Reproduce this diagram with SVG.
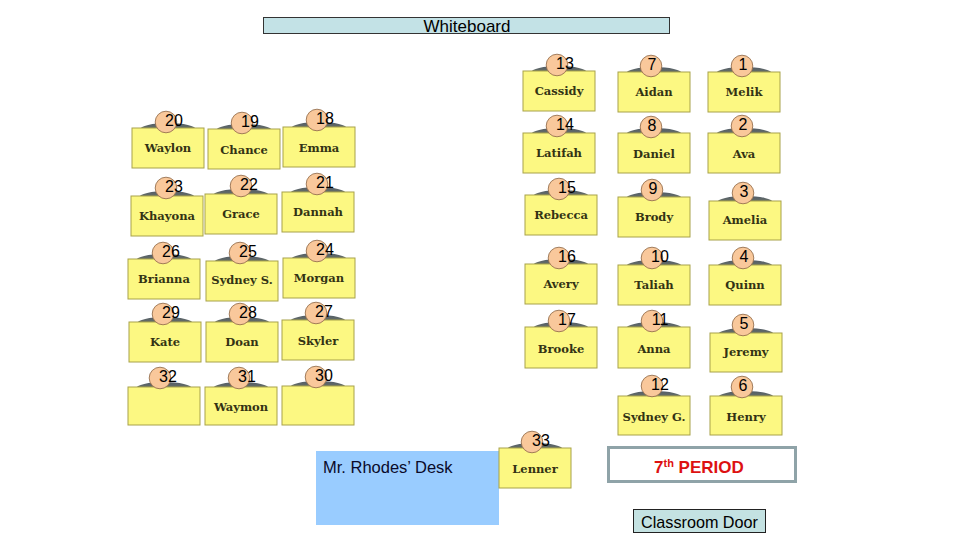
<svg xmlns="http://www.w3.org/2000/svg" width="960" height="540" viewBox="0 0 960 540">
<defs>
<linearGradient id="chairGrad" x1="0" y1="0" x2="0" y2="1">
<stop offset="0" stop-color="#525c68"/>
<stop offset="0.55" stop-color="#6e7566"/>
<stop offset="1" stop-color="#a8a444"/>
</linearGradient>
</defs>
<style>
.chair{fill:url(#chairGrad);stroke:none}
.top{fill:#fcf882;stroke:#a8a24a;stroke-width:1}
.seat{fill:#f9c89b;stroke:#8a6444;stroke-width:0.8}
.num{font-family:"Liberation Sans",Arial,sans-serif;font-size:16px;fill:#000;text-anchor:middle}
.name{font-family:"DejaVu Serif",Georgia,serif;font-weight:bold;font-size:11.5px;fill:#333314;text-anchor:middle}
.label{font-family:"Liberation Sans",Arial,sans-serif}
</style>
<rect width="960" height="540" fill="#ffffff"/>

<g id="whiteboard">
<rect x="263.5" y="17.5" width="406" height="16" fill="#c3e2e6" stroke="#333" stroke-width="1"/>
<text class="label" x="467" y="31.5" font-size="17" text-anchor="middle" fill="#000">Whiteboard</text>
</g>

<g id="teacher-desk">
<rect x="316" y="451" width="183" height="74" fill="#99ccff"/>
<text class="label" x="323" y="473" font-size="16.5" fill="#0a0a2a">Mr. Rhodes’ Desk</text>
</g>

<g id="period">
<rect x="608.5" y="447.5" width="187" height="34" fill="#ffffff" stroke="#8fa3a8" stroke-width="3"/>
<text class="label" x="654" y="473" font-size="17" font-weight="bold" fill="#dd1111">7<tspan font-size="11" dy="-6">th</tspan><tspan dy="6"> PERIOD</tspan></text>
</g>

<g id="classroom-door">
<rect x="633.5" y="509.5" width="132" height="23" fill="#c4e2e2" stroke="#222" stroke-width="1"/>
<text class="label" x="699.5" y="527.5" font-size="16.2" text-anchor="middle" fill="#000">Classroom Door</text>
</g>

<g id="connectors"></g>

<!-- Left block -->
<g id="desk-20"><ellipse class="chair" cx="168" cy="129.5" rx="28" ry="6.5"/><rect class="top" x="132" y="128" width="72" height="40"/><circle class="seat" cx="166" cy="122" r="10.8"/><text class="num" x="174" y="126">20</text><text class="name" x="168" y="151.5">Waylon</text></g>
<g id="desk-19"><ellipse class="chair" cx="244" cy="130.5" rx="28" ry="6.5"/><rect class="top" x="208" y="129" width="72" height="40"/><circle class="seat" cx="242" cy="123" r="10.8"/><text class="num" x="250" y="127">19</text><text class="name" x="244" y="153.5">Chance</text></g>
<g id="desk-18"><ellipse class="chair" cx="319" cy="128.5" rx="28" ry="6.5"/><rect class="top" x="283" y="127" width="72" height="40"/><circle class="seat" cx="317" cy="120" r="10.8"/><text class="num" x="325" y="124">18</text><text class="name" x="319" y="151.5">Emma</text></g>

<g id="desk-23"><ellipse class="chair" cx="167" cy="197.5" rx="28" ry="6.5"/><rect class="top" x="131" y="196" width="72" height="40"/><circle class="seat" cx="166" cy="188" r="10.8"/><text class="num" x="174" y="192">23</text><text class="name" x="167" y="219.5">Khayona</text></g>
<g id="desk-22"><ellipse class="chair" cx="241" cy="195.5" rx="28" ry="6.5"/><rect class="top" x="205" y="194" width="72" height="40"/><circle class="seat" cx="241" cy="186" r="10.8"/><text class="num" x="249" y="190">22</text><text class="name" x="241" y="217.5">Grace</text></g>
<g id="desk-21"><ellipse class="chair" cx="318" cy="193.5" rx="28" ry="6.5"/><rect class="top" x="282" y="192" width="72" height="40"/><circle class="seat" cx="317" cy="184" r="10.8"/><text class="num" x="325" y="188">21</text><text class="name" x="318" y="215.5">Dannah</text></g>

<g id="desk-26"><ellipse class="chair" cx="164" cy="260.5" rx="28" ry="6.5"/><rect class="top" x="128" y="259" width="72" height="40"/><circle class="seat" cx="163" cy="253" r="10.8"/><text class="num" x="171" y="257">26</text><text class="name" x="164" y="282.5">Brianna</text></g>
<g id="desk-25"><ellipse class="chair" cx="242" cy="262.5" rx="28" ry="6.5"/><rect class="top" x="206" y="261" width="72" height="40"/><circle class="seat" cx="240" cy="253" r="10.8"/><text class="num" x="248" y="257">25</text><text class="name" x="242" y="283.5">Sydney S.</text></g>
<g id="desk-24"><ellipse class="chair" cx="319" cy="259.5" rx="28" ry="6.5"/><rect class="top" x="283" y="258" width="72" height="40"/><circle class="seat" cx="317" cy="251" r="10.8"/><text class="num" x="325" y="255">24</text><text class="name" x="319" y="281.5">Morgan</text></g>

<g id="desk-29"><ellipse class="chair" cx="165" cy="323.5" rx="28" ry="6.5"/><rect class="top" x="129" y="322" width="72" height="40"/><circle class="seat" cx="163" cy="314" r="10.8"/><text class="num" x="171" y="318">29</text><text class="name" x="165" y="345.5">Kate</text></g>
<g id="desk-28"><ellipse class="chair" cx="242" cy="323.5" rx="28" ry="6.5"/><rect class="top" x="206" y="322" width="72" height="40"/><circle class="seat" cx="240" cy="314" r="10.8"/><text class="num" x="248" y="318">28</text><text class="name" x="242" y="345.5">Doan</text></g>
<g id="desk-27"><ellipse class="chair" cx="318" cy="321.5" rx="28" ry="6.5"/><rect class="top" x="282" y="320" width="72" height="40"/><circle class="seat" cx="316" cy="313" r="10.8"/><text class="num" x="324" y="317">27</text><text class="name" x="318" y="344.5">Skyler</text></g>

<g id="desk-32"><ellipse class="chair" cx="164" cy="388.5" rx="28" ry="6.5"/><rect class="top" x="128" y="387" width="72" height="38"/><circle class="seat" cx="160" cy="378" r="10.8"/><text class="num" x="168" y="382">32</text></g>
<g id="desk-31"><ellipse class="chair" cx="241" cy="388.5" rx="28" ry="6.5"/><rect class="top" x="205" y="387" width="72" height="38"/><circle class="seat" cx="239" cy="378" r="10.8"/><text class="num" x="247" y="382">31</text><text class="name" x="241" y="410.5">Waymon</text></g>
<g id="desk-30"><ellipse class="chair" cx="318" cy="387.5" rx="28" ry="6.5"/><rect class="top" x="282" y="386" width="72" height="39"/><circle class="seat" cx="316" cy="377" r="10.8"/><text class="num" x="324" y="381">30</text></g>

<!-- Right block -->
<g id="desk-13"><ellipse class="chair" cx="559" cy="72.5" rx="28" ry="6.5"/><rect class="top" x="523" y="71" width="72" height="40"/><circle class="seat" cx="557" cy="65" r="10.8"/><text class="num" x="565" y="69">13</text><text class="name" x="559" y="94.5">Cassidy</text></g>
<g id="desk-7"><ellipse class="chair" cx="654" cy="73.5" rx="28" ry="6.5"/><rect class="top" x="618" y="72" width="72" height="40"/><circle class="seat" cx="651" cy="66" r="10.8"/><text class="num" x="652" y="70">7</text><text class="name" x="654" y="95.5">Aidan</text></g>
<g id="desk-1"><ellipse class="chair" cx="744" cy="73.5" rx="28" ry="6.5"/><rect class="top" x="708" y="72" width="72" height="40"/><circle class="seat" cx="742" cy="66" r="10.8"/><text class="num" x="743" y="70">1</text><text class="name" x="744" y="95.5">Melik</text></g>

<g id="desk-14"><ellipse class="chair" cx="559" cy="134.5" rx="28" ry="6.5"/><rect class="top" x="523" y="133" width="72" height="40"/><circle class="seat" cx="557" cy="126" r="10.8"/><text class="num" x="565" y="130">14</text><text class="name" x="559" y="156.5">Latifah</text></g>
<g id="desk-8"><ellipse class="chair" cx="654" cy="134.5" rx="28" ry="6.5"/><rect class="top" x="618" y="133" width="72" height="40"/><circle class="seat" cx="651" cy="127" r="10.8"/><text class="num" x="652" y="131">8</text><text class="name" x="654" y="157.5">Daniel</text></g>
<g id="desk-2"><ellipse class="chair" cx="744" cy="134.5" rx="28" ry="6.5"/><rect class="top" x="708" y="133" width="72" height="40"/><circle class="seat" cx="742" cy="126" r="10.8"/><text class="num" x="743" y="130">2</text><text class="name" x="744" y="157.5">Ava</text></g>

<g id="desk-15"><ellipse class="chair" cx="561" cy="196.5" rx="28" ry="6.5"/><rect class="top" x="525" y="195" width="72" height="40"/><circle class="seat" cx="559" cy="189" r="10.8"/><text class="num" x="567" y="193">15</text><text class="name" x="561" y="218.5">Rebecca</text></g>
<g id="desk-9"><ellipse class="chair" cx="654" cy="198.5" rx="28" ry="6.5"/><rect class="top" x="618" y="197" width="72" height="40"/><circle class="seat" cx="652" cy="190" r="10.8"/><text class="num" x="653" y="194">9</text><text class="name" x="654" y="220.5">Brody</text></g>
<g id="desk-3"><ellipse class="chair" cx="745" cy="202.5" rx="28" ry="6.5"/><rect class="top" x="709" y="201" width="72" height="39"/><circle class="seat" cx="743" cy="193" r="10.8"/><text class="num" x="744" y="197">3</text><text class="name" x="745" y="223.5">Amelia</text></g>

<g id="desk-16"><ellipse class="chair" cx="561" cy="265.5" rx="28" ry="6.5"/><rect class="top" x="525" y="264" width="72" height="40"/><circle class="seat" cx="559" cy="258" r="10.8"/><text class="num" x="567" y="262">16</text><text class="name" x="561" y="287.5">Avery</text></g>
<g id="desk-10"><ellipse class="chair" cx="654" cy="266.5" rx="28" ry="6.5"/><rect class="top" x="618" y="265" width="72" height="40"/><circle class="seat" cx="652" cy="258" r="10.8"/><text class="num" x="660" y="262">10</text><text class="name" x="654" y="288.5">Taliah</text></g>
<g id="desk-4"><ellipse class="chair" cx="745" cy="266.5" rx="28" ry="6.5"/><rect class="top" x="709" y="265" width="72" height="40"/><circle class="seat" cx="743" cy="258" r="10.8"/><text class="num" x="744" y="262">4</text><text class="name" x="745" y="288.5">Quinn</text></g>

<g id="desk-17"><ellipse class="chair" cx="561" cy="328.5" rx="28" ry="6.5"/><rect class="top" x="525" y="327" width="72" height="41"/><circle class="seat" cx="559" cy="321" r="10.8"/><text class="num" x="567" y="325">17</text><text class="name" x="561" y="352.5">Brooke</text></g>
<g id="desk-11"><ellipse class="chair" cx="654" cy="328.5" rx="28" ry="6.5"/><rect class="top" x="618" y="327" width="72" height="41"/><circle class="seat" cx="652" cy="321" r="10.8"/><text class="num" x="660" y="325">11</text><text class="name" x="654" y="352.5">Anna</text></g>
<g id="desk-5"><ellipse class="chair" cx="746" cy="334.5" rx="28" ry="6.5"/><rect class="top" x="710" y="333" width="72" height="39"/><circle class="seat" cx="743" cy="325" r="10.8"/><text class="num" x="744" y="329">5</text><text class="name" x="746" y="355.5">Jeremy</text></g>

<g id="desk-12"><ellipse class="chair" cx="654" cy="397.5" rx="28" ry="6.5"/><rect class="top" x="618" y="396" width="72" height="39"/><circle class="seat" cx="652" cy="386" r="10.8"/><text class="num" x="660" y="390">12</text><text class="name" x="654" y="420.5">Sydney G.</text></g>
<g id="desk-6"><ellipse class="chair" cx="746" cy="397.5" rx="28" ry="6.5"/><rect class="top" x="710" y="396" width="72" height="39"/><circle class="seat" cx="742" cy="387" r="10.8"/><text class="num" x="743" y="391">6</text><text class="name" x="746" y="420.5">Henry</text></g>

<g id="desk-33"><ellipse class="chair" cx="535" cy="449.5" rx="28" ry="6.5"/><rect class="top" x="499" y="448" width="72" height="40"/><circle class="seat" cx="532" cy="442" r="10.8"/><text class="num" x="541" y="446">33</text><text class="name" x="535" y="472.5">Lenner</text></g>
</svg>
